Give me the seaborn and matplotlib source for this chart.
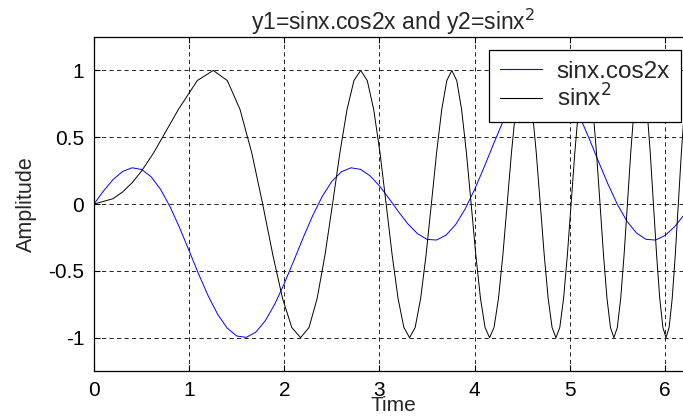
import numpy as np
import pandas as pd
import matplotlib
matplotlib.use("Agg")
import matplotlib.pyplot as plt
from matplotlib.lines import Line2D
import seaborn as sns

# y1 = sinx.cos2x, read at steps of 0.1 (last point at 2*pi)
x_blue = [0.0, 0.1, 0.2, 0.3, 0.4, 0.5, 0.6, 0.7, 0.8, 0.9,
          1.0, 1.1, 1.2, 1.3, 1.4, 1.5, 1.6, 1.7, 1.8, 1.9,
          2.0, 2.1, 2.2, 2.3, 2.4, 2.5, 2.6, 2.7, 2.8, 2.9,
          3.0, 3.1, 3.2, 3.3, 3.4, 3.5, 3.6, 3.7, 3.8, 3.9,
          4.0, 4.1, 4.2, 4.3, 4.4, 4.5, 4.6, 4.7, 4.8, 4.9,
          5.0, 5.1, 5.2, 5.3, 5.4, 5.5, 5.6, 5.7, 5.8, 5.9,
          6.0, 6.1, 6.2, 6.2832]
y_blue = [0.0, 0.0978, 0.1830, 0.2439, 0.2713, 0.2590, 0.2046, 0.1095, -0.0209, -0.1780,
          -0.3502, -0.5245, -0.6873, -0.8257, -0.9285, -0.9875, -0.9979, -0.9588, -0.8733, -0.7485,
          -0.5943, -0.4232, -0.2485, -0.0837, 0.0591, 0.1698, 0.2415, 0.2713, 0.2598, 0.2118,
          0.1355, 0.0415, -0.0580, -0.1499, -0.2221, -0.2645, -0.2692, -0.2323, -0.1538, -0.0371,
          0.1101, 0.2768, 0.4526, 0.6218, 0.7731, 0.8906, 0.9687, 0.9998, 0.9810, 0.9141,
          0.8046, 0.6613, 0.4956, 0.3207, 0.1504, -0.0031, -0.1282, -0.2167, -0.2640, -0.2694,
          -0.2358, -0.1701, -0.0819, 0.0]

# y2 = sinx^2, read at eighth-cycle points
x_black = [0.0, 0.2, 0.3, 0.4, 0.5, 0.6267, 0.8862, 1.0854, 1.2533, 1.4012,
           1.5350, 1.6580, 1.7725, 1.8800, 1.9817, 2.0784, 2.1708, 2.2595, 2.3447, 2.4270,
           2.5066, 2.5838, 2.6587, 2.7315, 2.8025, 2.8717, 2.9393, 3.0054, 3.0700, 3.1333,
           3.1953, 3.2562, 3.3160, 3.3747, 3.4324, 3.4891, 3.5449, 3.5999, 3.6540, 3.7073,
           3.7599, 3.8118, 3.8630, 3.9135, 3.9633, 4.0126, 4.0612, 4.1093, 4.1568, 4.2037,
           4.2502, 4.2962, 4.3416, 4.3866, 4.4311, 4.4752, 4.5189, 4.5621, 4.6050, 4.6474,
           4.6895, 4.7312, 4.7725, 4.8135, 4.8541, 4.8944, 4.9343, 4.9739, 5.0133, 5.0523,
           5.0910, 5.1294, 5.1675, 5.2054, 5.2430, 5.2803, 5.3174, 5.3542, 5.3907, 5.4270,
           5.4631, 5.4989, 5.5345, 5.5698, 5.6050, 5.6399, 5.6746, 5.7091, 5.7434, 5.7775,
           5.8114, 5.8451, 5.8786, 5.9119, 5.9450, 5.9779, 6.0107, 6.0433, 6.0757, 6.1079,
           6.1400, 6.1719, 6.2036, 6.2352, 6.2666, 6.2832]
y_black = [0.0, 0.04, 0.09, 0.159, 0.247, 0.383, 0.707, 0.924, 1.0, 0.924,
           0.707, 0.383, 0.0, -0.383, -0.707, -0.924, -1.0, -0.924, -0.707, -0.383,
           0.0, 0.383, 0.707, 0.924, 1.0, 0.924, 0.707, 0.383, 0.0, -0.383,
           -0.707, -0.924, -1.0, -0.924, -0.707, -0.383, 0.0, 0.383, 0.707, 0.924,
           1.0, 0.924, 0.707, 0.383, 0.0, -0.383, -0.707, -0.924, -1.0, -0.924,
           -0.707, -0.383, 0.0, 0.383, 0.707, 0.924, 1.0, 0.924, 0.707, 0.383,
           0.0, -0.383, -0.707, -0.924, -1.0, -0.924, -0.707, -0.383, 0.0, 0.383,
           0.707, 0.924, 1.0, 0.924, 0.707, 0.383, 0.0, -0.383, -0.707, -0.924,
           -1.0, -0.924, -0.707, -0.383, 0.0, 0.383, 0.707, 0.924, 1.0, 0.924,
           0.707, 0.383, 0.0, -0.383, -0.707, -0.924, -1.0, -0.924, -0.707, -0.383,
           0.0, 0.383, 0.707, 0.924, 1.0, 0.978]

x_ticks = [0, 1, 2, 3, 4, 5, 6]
y_ticks = [-1, -0.5, 0, 0.5, 1]
y_tick_labels = ["-1", "-0.5", "0", "0.5", "1"]
series_labels = ['sinx.cos2x', 'sinx$^2$']
series_colors = ['#0000ff', 'black']

sns.set_style("ticks")
plt.rcParams['font.family'] = ['Liberation Sans', 'DejaVu Sans']
plt.rcParams['font.size'] = 15
plt.rcParams['xtick.direction'] = 'in'
plt.rcParams['ytick.direction'] = 'in'

fig = plt.figure(figsize=(6.83, 4.16), dpi=100)
ax = fig.add_axes([0.1376, 0.108, 0.8755, 0.803])

sns.lineplot(x=x_blue, y=y_blue, color=series_colors[0], linewidth=0.7, sort=False, ax=ax)
sns.lineplot(x=x_black, y=y_black, color=series_colors[1], linewidth=0.7, sort=False, ax=ax)

ax.set_xlim(0, 6.2832)
ax.set_ylim(-1.25, 1.25)
ax.set_xticks(x_ticks)
ax.set_yticks(y_ticks)
ax.set_yticklabels(y_tick_labels)
ax.tick_params(axis='both', which='both', top=True, right=True, length=4,
               width=0.8, labelsize=15, colors='black')
ax.tick_params(axis='x', pad=7)
ax.tick_params(axis='y', pad=7)
ax.grid(True, color='black', linestyle=(0, (5, 4)), linewidth=0.6)
for s in ax.spines.values():
    s.set_color('black')
    s.set_linewidth(0.9)

ax.set_title('y1=sinx.cos2x and y2=sinx$^2$', fontsize=16.5, pad=4)
ax.set_xlabel('Time', fontsize=15, labelpad=-3)
ax.set_ylabel('Amplitude', fontsize=15.5, labelpad=8)

handles = [Line2D([], [], color=c, linewidth=0.8) for c in series_colors]
leg = ax.legend(handles, series_labels, loc='upper right', bbox_to_anchor=(0.997, 0.880),
                bbox_transform=fig.transFigure, frameon=True, fancybox=False,
                framealpha=1, edgecolor='black', fontsize=17.5, handlelength=1.75,
                borderpad=0.45, labelspacing=0.05, handletextpad=0.6,
                borderaxespad=0)
leg.get_frame().set_linewidth(0.9)

fig.savefig('out.png', dpi=100)
